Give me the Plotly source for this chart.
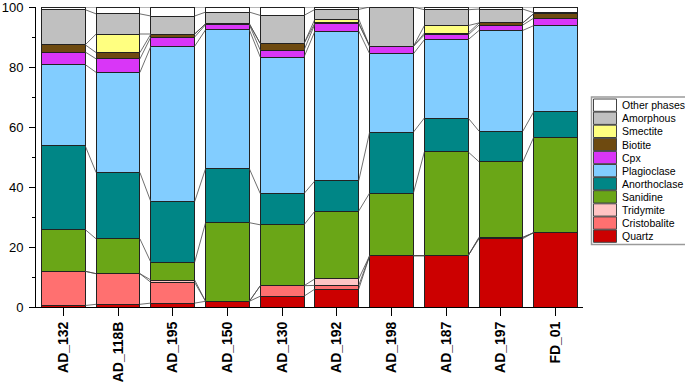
import plotly.graph_objects as go

samples = ["AD_132", "AD_118B", "AD_195", "AD_150", "AD_130", "AD_192", "AD_198", "AD_187", "AD_197", "FD_01"]

# phase percentages per sample (bottom to top of the stack)
quartz       = [0.5, 0.9, 1.3, 1.9, 3.6, 6.0, 17.1, 17.1, 22.8, 24.8]
cristobalite = [11.4, 10.2, 6.9, 0.0, 3.5, 1.2, 0.0, 0.0, 0.4, 0.0]
tridymite    = [0.0, 0.0, 0.8, 0.0, 0.0, 2.2, 0.0, 0.0, 0.0, 0.0]
sanidine     = [13.9, 11.6, 5.9, 26.2, 20.3, 22.6, 20.9, 34.6, 25.2, 31.8]
anorthoclase = [27.9, 22.1, 20.2, 18.0, 10.4, 10.1, 20.3, 11.3, 10.2, 8.5]
plagioclase  = [27.1, 33.4, 51.8, 46.3, 45.5, 49.9, 26.1, 26.1, 33.6, 28.7]
cpx          = [4.2, 4.5, 3.1, 1.7, 2.3, 2.4, 2.5, 1.6, 1.8, 2.5]
biotite      = [2.4, 2.1, 1.0, 0.3, 2.2, 0.3, 0.0, 0.6, 0.7, 1.5]
smectite     = [0.0, 6.2, 0.0, 0.0, 0.0, 1.3, 0.0, 2.5, 0.0, 0.0]
amorphous    = [11.7, 6.7, 6.0, 3.9, 9.4, 3.2, 13.1, 5.3, 4.6, 0.3]
other        = [0.9, 2.3, 3.0, 1.7, 2.8, 0.8, 0.0, 0.9, 0.7, 1.9]

phase_names = ["Quartz", "Cristobalite", "Tridymite", "Sanidine", "Anorthoclase",
               "Plagioclase", "Cpx", "Biotite", "Smectite", "Amorphous", "Other phases"]
phase_values = [quartz, cristobalite, tridymite, sanidine, anorthoclase,
                plagioclase, cpx, biotite, smectite, amorphous, other]
phase_colors = ["#CC0000", "#FF7070", "#FFC4C4", "#6AA617", "#008686",
                "#82CDFF", "#D936F7", "#6E4A10", "#FFFF80", "#C0C0C0", "#FFFFFF"]

pos = list(range(len(samples)))
bar_w = 0.8

W, H = 685, 382
ML, MR, MT, MB = 36, 102, 7, 75
PW, PH = W - ML - MR, H - MT - MB

fig = go.Figure()

# connecting lines between segment tops of neighbouring bars
cum = [0.0] * len(samples)
for name, vals in zip(phase_names, phase_values):
    cum = [c + v for c, v in zip(cum, vals)]
    xs, ys = [], []
    for i in range(len(samples) - 1):
        xs += [pos[i] + bar_w / 2, pos[i + 1] - bar_w / 2, None]
        ys += [cum[i], cum[i + 1], None]
    fig.add_trace(go.Scatter(x=xs, y=ys, mode="lines", showlegend=False, hoverinfo="skip",
                             line=dict(color="#4a4a4a", width=0.8)))

for name, vals, col in zip(phase_names, phase_values, phase_colors):
    fig.add_trace(go.Bar(x=pos, y=vals, name=name, width=bar_w, showlegend=False,
                         marker=dict(color=col, line=dict(color="#222222", width=1))))

# compact legend box (Origin style), built from the phase lists
def px2paper(px, py):
    return (px - ML) / PW, (H - MB - py) / PH

shapes, annos = [], []
bx0, by0 = px2paper(591.5, 97)
bx1, by1 = px2paper(692, 244.5)
shapes.append(dict(type="rect", xref="paper", yref="paper", x0=bx0, y0=by1, x1=bx1, y1=by0,
                   line=dict(color="#9a9a9a", width=1.5), fillcolor="white", layer="above"))
step = 13.1
for k, (name, col) in enumerate(zip(phase_names[::-1], phase_colors[::-1])):
    top = 99.0 + k * step
    x0, y0 = px2paper(593.5, top)
    x1, y1 = px2paper(616.5, top + 12.3)
    shapes.append(dict(type="rect", xref="paper", yref="paper", x0=x0, y0=y1, x1=x1, y1=y0,
                       line=dict(color="#444444", width=1), fillcolor=col, layer="above"))
    tx, ty = px2paper(619.5, top + 6.2)
    annos.append(dict(x=tx, y=ty, xref="paper", yref="paper", text=name, showarrow=False,
                      xanchor="left", yanchor="middle", font=dict(size=10.5, color="black")))

fig.update_layout(
    barmode="stack",
    width=W, height=H,
    margin=dict(l=ML, r=MR, t=MT, b=MB),
    paper_bgcolor="white", plot_bgcolor="white",
    font=dict(family="Arial, Liberation Sans, sans-serif", color="black"),
    showlegend=False,
    shapes=shapes, annotations=annos,
    xaxis=dict(range=[-0.5, 9.5], tickvals=pos, ticktext=samples, tickangle=-90,
               showline=True, linecolor="black", linewidth=1, ticks="outside", ticklen=8,
               tickcolor="black", showgrid=False, zeroline=False, automargin=False,
               tickfont=dict(size=14, family="Arial, Liberation Sans, sans-serif", weight="bold")),
    yaxis=dict(range=[0, 100], tickvals=[0, 20, 40, 60, 80, 100], showline=True,
               linecolor="black", linewidth=1, automargin=False, ticklabeloverflow="allow",
               ticks="outside", ticklen=6, tickcolor="black", showgrid=False, zeroline=False,
               tickfont=dict(size=13), ticklabelstandoff=3,
               minor=dict(tickvals=[10, 30, 50, 70, 90], ticks="outside", ticklen=3,
                          tickcolor="black")),
)

fig.write_html("out.html", config={"displayModeBar": False},
               post_script="document.body.style.margin='0';document.body.style.overflow='hidden';")
